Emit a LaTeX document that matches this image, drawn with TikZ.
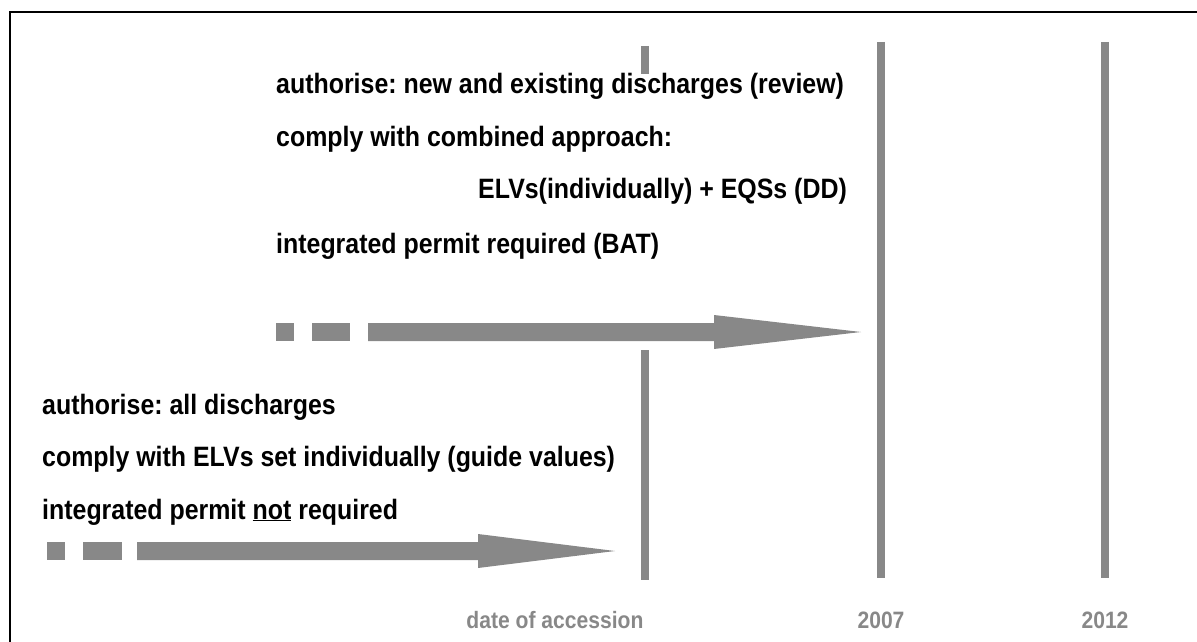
\documentclass[tikz,border=0pt]{standalone}
\usepackage{fontspec}
\newfontfamily\narrowsans[FakeStretch=0.89]{Liberation Sans}
\definecolor{bargray}{RGB}{136,136,136}
\frenchspacing
\begin{document}
\begin{tikzpicture}[x=1pt,y=-1pt,
  frame/.style={draw=black,line width=1.8pt},
  bar/.style={draw=bargray,line width=7.5pt},
  shape fill/.style={fill=bargray},
  rowtext/.style={inner sep=0pt,anchor=base west,font=\narrowsans\bfseries\fontsize{28}{32}\selectfont},
  datelabel/.style={inner sep=0pt,anchor=base,text=bargray,font=\narrowsans\bfseries\fontsize{23.7}{27}\selectfont}]
\useasboundingbox (0,0) rectangle (1197,642);
% outer frame (open to the right and the bottom)
\draw[frame] (10,642) -- (10,12) -- (1197,12);

% time markers
\draw[bar] (645,46) -- (645,74);
\draw[bar] (645,350) -- (645,580);
\draw[bar] (881,42) -- (881,578);
\draw[bar] (1105,42) -- (1105,578);

% later regime: dotted lead-in and arrow up to 2007
\fill[shape fill] (276,323) rectangle (294,341);
\fill[shape fill] (312,323) rectangle (350,341);
\fill[shape fill] (368,323) -- (714,323) -- (714,315) -- (861,332)
  -- (714,349) -- (714,341) -- (368,341) -- cycle;

% earlier regime: dotted lead-in and arrow up to the date of accession
\fill[shape fill] (47,542) rectangle (65,560);
\fill[shape fill] (83,542) rectangle (122,560);
\fill[shape fill] (137,542) -- (478,542) -- (478,534) -- (615,551)
  -- (478,568) -- (478,560) -- (137,560) -- cycle;

% obligations after accession
\node[rowtext] (u1) at (276,93) {authorise: new and existing discharges (review)};
\node[rowtext] (u2) at (276,146) {comply with combined approach:};
\node[rowtext,anchor=base east] (u3) at (847,198) {ELVs(individually) + EQSs (DD)};
\node[rowtext] (u4) at (276,253) {integrated permit required (BAT)};

% obligations before accession
\node[rowtext] (l1) at (42,414) {authorise: all discharges};
\node[rowtext] (l2) at (42,466) {comply with ELVs set individually (guide values)};
\node[rowtext] (l3) at (42,519) {integrated permit \underline{not} required};

% timeline labels
\node[datelabel] (acc) at (555,628) {date of accession};
\node[datelabel] (y2007) at (881,628) {2007};
\node[datelabel] (y2012) at (1105,628) {2012};
\end{tikzpicture}
\end{document}
